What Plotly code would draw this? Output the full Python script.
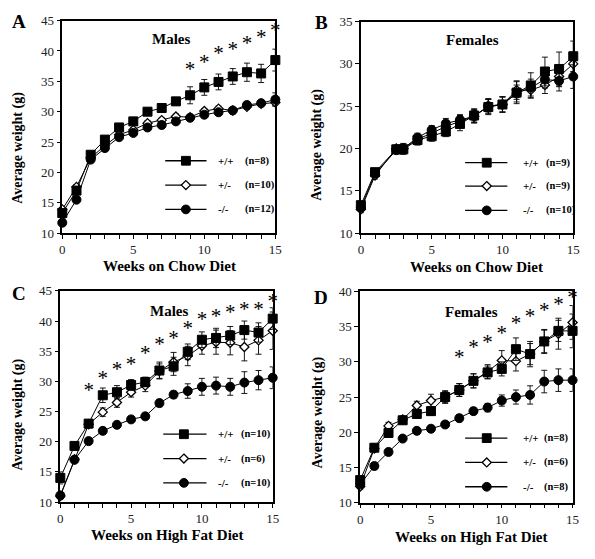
import plotly.graph_objects as go

W, H = 595, 559

weeks = list(range(16))
weeks_b = [0, 1, 2.5, 3, 4, 5, 6, 7, 8, 9, 10, 11, 12, 13, 14, 15]

# Panel A: Males, chow diet
a_wt = [13.3, 17.0, 22.9, 25.4, 27.4, 28.4, 30.0, 30.6, 31.7, 32.7, 34.0, 34.9, 35.8, 36.5, 36.3, 38.5]
a_wt_err = [0.5, 0.6, 0.5, 0.5, 0.5, 0.5, 0.5, 0.5, 0.5, 1.4, 1.3, 1.3, 1.3, 1.5, 1.5, 1.8]
a_het = [13.9, 17.6, 22.4, 24.4, 26.2, 27.0, 28.1, 28.6, 29.2, 29.1, 30.1, 30.5, 30.2, 30.8, 31.3, 31.5]
a_het_err = [0.4] * 15 + [0.5]
a_ko = [11.7, 15.5, 22.1, 24.0, 25.8, 26.5, 27.4, 27.8, 28.4, 29.0, 29.5, 29.9, 30.2, 31.1, 31.4, 32.0]
a_ko_err = [0.5, 0.5, 0.4, 0.4, 0.4, 0.4, 0.4, 0.4, 0.4, 0.4, 0.4, 0.4, 0.4, 0.5, 0.5, 1.1]
a_star_w = [9, 10, 11, 12, 13, 14, 15]
a_star_y = [36.8, 37.9, 39.3, 40.0, 41.0, 42.0, 43.1]
a_n = ["8", "10", "12"]

# Panel B: Females, chow diet
b_wt = [13.3, 17.2, 19.9, 19.9, 21.0, 21.45, 22.0, 22.9, 23.9, 24.9, 25.2, 26.6, 27.45, 29.1, 29.4, 30.9]
b_wt_err = [0.4, 0.4, 0.4, 0.6, 0.6, 0.6, 0.6, 0.8, 0.8, 0.9, 0.9, 1.3, 1.5, 1.7, 2.0, 1.8]
b_het = [12.8, 16.8, 20.0, 20.0, 21.1, 21.8, 22.6, 23.2, 23.8, 25.0, 25.2, 26.9, 26.9, 27.5, 28.5, 30.0]
b_het_err = [0.4, 0.4, 0.4, 0.6, 0.5, 0.6, 0.6, 0.7, 0.8, 0.9, 0.9, 1.1, 0.9, 1.0, 1.2, 1.4]
b_ko = [13.0, 17.0, 19.8, 20.0, 21.3, 22.2, 22.95, 23.4, 23.8, 25.0, 25.2, 26.5, 27.2, 28.15, 28.0, 28.5]
b_ko_err = [0.4, 0.4, 0.4, 0.5, 0.5, 0.5, 0.6, 0.6, 0.7, 0.8, 0.9, 1.0, 1.0, 1.0, 1.2, 1.4]
b_n = ["9", "9", "10"]

# Panel C: Males, high fat diet
c_wt = [14.0, 19.3, 23.0, 27.7, 28.2, 29.4, 29.9, 31.8, 32.5, 34.9, 36.9, 37.2, 37.6, 38.5, 38.1, 40.4]
c_wt_err = [1.0, 0.6, 0.6, 1.2, 1.1, 0.9, 0.8, 1.4, 1.5, 1.3, 1.3, 1.6, 1.5, 1.5, 1.6, 1.8]
c_het = [11.0, 17.1, 22.9, 24.9, 26.5, 28.2, 29.3, 31.7, 33.2, 34.2, 35.9, 36.5, 36.4, 35.7, 36.8, 38.4]
c_het_err = [0.5, 0.5, 0.6, 0.7, 0.8, 0.8, 1.0, 1.2, 1.6, 1.6, 1.4, 2.0, 2.0, 2.3, 2.3, 3.1]
c_ko = [11.1, 17.0, 20.1, 21.8, 22.8, 23.7, 24.2, 26.4, 27.8, 28.4, 29.1, 29.3, 29.1, 29.8, 30.2, 30.6]
c_ko_err = [0.5, 0.5, 0.5, 0.5, 0.5, 0.5, 0.5, 0.6, 0.6, 1.2, 1.4, 1.4, 1.4, 1.8, 1.6, 1.8]
c_star_w = [2, 3, 4, 5, 6, 7, 8, 9, 10, 11, 12, 13, 14, 15]
c_star_y = [28.2, 30.2, 31.7, 32.6, 34.4, 35.9, 36.9, 38.5, 40.1, 40.5, 41.2, 41.7, 41.7, 43.0]
c_n = ["10", "6", "10"]

# Panel D: Females, high fat diet
d_wt = [13.2, 17.8, 19.9, 21.7, 22.6, 23.0, 25.0, 26.0, 27.3, 28.5, 29.0, 31.8, 31.1, 32.9, 34.4, 34.4]
d_wt_err = [0.5, 0.5, 0.6, 0.5, 0.6, 0.6, 0.8, 0.9, 1.0, 0.9, 1.0, 1.6, 1.8, 1.7, 1.5, 2.4]
d_het = [12.3, 17.7, 20.9, 21.8, 23.8, 24.5, 25.0, 26.0, 27.3, 28.6, 30.2, 30.1, 31.1, 32.9, 34.0, 35.6]
d_het_err = [0.4, 0.4, 0.5, 0.5, 0.6, 0.9, 0.9, 0.9, 1.0, 1.0, 1.4, 1.4, 1.5, 1.6, 2.2, 2.4]
d_ko = [12.6, 15.2, 17.2, 19.1, 20.2, 20.5, 21.1, 22.0, 23.0, 23.5, 24.5, 25.0, 25.3, 27.2, 27.4, 27.4]
d_ko_err = [0.4, 0.4, 0.4, 0.4, 0.4, 0.4, 0.4, 0.5, 0.5, 0.6, 0.8, 1.0, 1.3, 1.6, 1.6, 1.6]
d_star_w = [7, 8, 9, 10, 11, 12, 13, 14, 15]
d_star_y = [30.4, 31.8, 32.6, 33.9, 35.2, 36.2, 37.1, 37.9, 38.9]
d_n = ["8", "6", "8"]

genotypes = ["+/+", "+/-", "-/-"]
x_tick_vals = [0, 5, 10, 15]

SERIF = "Liberation Serif"
BLACK = "black"

styles = [
    dict(symbol="square", size=9, color=BLACK, line=dict(color=BLACK, width=1)),
    dict(symbol="diamond", size=7, color="white", line=dict(color=BLACK, width=1.3)),
    dict(symbol="circle", size=9, color=BLACK, line=dict(color=BLACK, width=1)),
]
draw_order = [1, 2, 0]

# legend geometry (pixels): line x0, x1, marker x, text1 x, text2 x, row y's
panels = [
    dict(ax="", x=weeks, ys=[a_wt, a_het, a_ko], errs=[a_wt_err, a_het_err, a_ko_err],
         sw=a_star_w, sy=a_star_y, n=a_n, yr=[10, 45],
         dom_x=[60.3, 277.0], dom_y=[14.0, 232.3],
         leg=dict(l0=165, l1=207, m=186, t1=217, t2=244, rows=[158, 183, 208])),
    dict(ax="2", x=weeks_b, ys=[b_wt, b_het, b_ko], errs=[b_wt_err, b_het_err, b_ko_err],
         sw=[], sy=[], n=b_n, yr=[10, 35],
         dom_x=[364.0, 580.0], dom_y=[15.0, 232.3],
         leg=dict(l0=470, l1=513, m=492, t1=527, t2=550, rows=[160, 184, 209])),
    dict(ax="3", x=weeks, ys=[c_wt, c_het, c_ko], errs=[c_wt_err, c_het_err, c_ko_err],
         sw=c_star_w, sy=c_star_y, n=c_n, yr=[10, 45],
         dom_x=[58.3, 274.3], dom_y=[291.7, 508.7],
         leg=dict(l0=163, l1=207, m=184, t1=217, t2=240, rows=[439, 464, 489])),
    dict(ax="4", x=weeks, ys=[d_wt, d_het, d_ko], errs=[d_wt_err, d_het_err, d_ko_err],
         sw=d_star_w, sy=d_star_y, n=d_n, yr=[10, 40],
         dom_x=[363.3, 579.3], dom_y=[292.3, 509.3],
         leg=dict(l0=470, l1=513, m=492, t1=527, t2=548, rows=[443, 468, 493])),
]


def px(x):
    return x / W


def py(y):
    return 1 - y / H


fig = go.Figure()
layout = dict(
    width=W, height=H, margin=dict(l=0, r=0, t=0, b=0),
    paper_bgcolor="white", plot_bgcolor="white",
    font=dict(family=SERIF, color=BLACK, size=13),
    annotations=[], shapes=[], showlegend=False,
)


def legend_marker(kind, cx, cy):
    if kind == 0:
        r = 4.5
        return dict(type="rect", xref="paper", yref="paper", x0=px(cx - r), x1=px(cx + r),
                    y0=py(cy + r), y1=py(cy - r), fillcolor=BLACK, line=dict(color=BLACK, width=1))
    if kind == 2:
        r = 4.5
        return dict(type="circle", xref="paper", yref="paper", x0=px(cx - r), x1=px(cx + r),
                    y0=py(cy + r), y1=py(cy - r), fillcolor=BLACK, line=dict(color=BLACK, width=1))
    r = 4.6
    path = "M%f,%f L%f,%f L%f,%f L%f,%f Z" % (
        px(cx), py(cy - r), px(cx + r), py(cy), px(cx), py(cy + r), px(cx - r), py(cy))
    return dict(type="path", xref="paper", yref="paper", path=path, fillcolor="white",
                line=dict(color=BLACK, width=1.3))


def txt(text, x, y, size, anchor="center", angle=0, bold=True):
    return dict(text=text, x=px(x), y=py(y), xref="paper", yref="paper",
                xanchor=anchor, yanchor="middle", showarrow=False, textangle=angle,
                font=dict(family=SERIF, size=size, color=BLACK, weight="bold" if bold else "normal"))


for pi, p in enumerate(panels):
    xa, ya = "x" + p["ax"], "y" + p["ax"]
    for si in draw_order:
        fig.add_trace(go.Scatter(
            x=p["x"], y=p["ys"][si], xaxis=xa, yaxis=ya, mode="lines+markers",
            name=genotypes[si], line=dict(color=BLACK, width=1), marker=styles[si], cliponaxis=False,
            error_y=dict(type="data", array=p["errs"][si], color=BLACK, thickness=0.9, width=3),
            hoverinfo="skip"))
    if p["sw"]:
        fig.add_trace(go.Scatter(
            x=p["sw"], y=p["sy"], xaxis=xa, yaxis=ya, mode="text", text=["*"] * len(p["sw"]),
            textposition="middle center", cliponaxis=False,
            textfont=dict(family=SERIF, size=21, color=BLACK), hoverinfo="skip"))

    key = p["ax"]
    layout["xaxis" + key] = dict(
        domain=[px(p["dom_x"][0]), px(p["dom_x"][1])], anchor=ya, range=[0, 15],
        tickvals=x_tick_vals, ticks="outside", ticklen=4, tickwidth=1, tickcolor=BLACK,
        minor=dict(dtick=1, tick0=0, ticks="outside", ticklen=4, tickwidth=1, tickcolor=BLACK),
        showline=True, linecolor=BLACK, linewidth=1.5, mirror=True, showgrid=False, zeroline=False,
        tickfont=dict(family=SERIF, size=13, color="#222"), fixedrange=True)
    layout["yaxis" + key] = dict(
        domain=[py(p["dom_y"][1]), py(p["dom_y"][0])], anchor=xa, range=p["yr"],
        dtick=5, ticks="outside", ticklen=4, tickwidth=1, tickcolor=BLACK,
        showline=True, linecolor=BLACK, linewidth=1.5, mirror=True, showgrid=False, zeroline=False,
        tickfont=dict(family=SERIF, size=13, color="#222"), fixedrange=True)

    lg = p["leg"]
    for si in range(3):
        ry = lg["rows"][si]
        layout["shapes"].append(dict(type="line", xref="paper", yref="paper",
                                     x0=px(lg["l0"]), x1=px(lg["l1"]), y0=py(ry), y1=py(ry),
                                     line=dict(color=BLACK, width=1.3)))
        layout["shapes"].append(legend_marker(si, lg["m"], ry))
        layout["annotations"].append(txt(genotypes[si], lg["t1"], ry, 11, anchor="left"))
        layout["annotations"].append(txt("(n=%s)" % p["n"][si], lg["t2"], ry, 10.5, anchor="left"))

letters = [("A", 16.5, 15), ("B", 324, 15.5), ("C", 16, 294), ("D", 323.5, 299)]
subtitles = [("Males", 171, 33), ("Females", 478, 34), ("Males", 169, 312), ("Females", 477, 313)]
xtitles = [("Weeks on Chow Diet", 169, 266), ("Weeks on Chow Diet", 482, 267),
           ("Weeks on High Fat Diet", 167, 543), ("Weeks on High Fat Diet", 477, 545)]
ytitles = [("Average weight (g)", 15, 145), ("Average weight (g)", 320, 142),
           ("Average weight (g)", 15, 419), ("Average weight (g)", 320, 417)]

for t, x, y in letters:
    layout["annotations"].append(txt(t, x, y, 19))
for t, x, y in subtitles:
    layout["annotations"].append(txt(t, x, y, 15))
for t, x, y in xtitles:
    layout["annotations"].append(txt(t, x, y, 15))
for t, x, y in ytitles:
    layout["annotations"].append(txt(t, x, y, 14, angle=-90))

fig.update_layout(**layout)
fig.write_html("out.html", config={"displayModeBar": False},
               post_script="document.body.style.margin='0';document.body.style.overflow='hidden';")
